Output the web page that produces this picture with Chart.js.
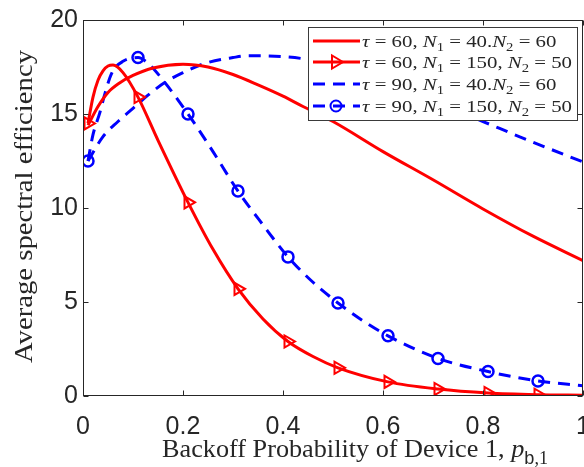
<!DOCTYPE html>
<html>
<head>
<meta charset="utf-8">
<script src="https://cdn.jsdelivr.net/npm/chart.js@4/dist/chart.umd.min.js"></script>
<style>
  html, body { margin: 0; padding: 0; background: #fff; }
  #wrap { width: 584px; height: 467px; }
</style>
</head>
<body>
<div id="wrap"><canvas id="chart" width="584" height="467"></canvas></div>
<script>
// data

// tau = 60, N1 = 40, N2 = 60 (red solid)
const xA = [0.01, 0.03, 0.05, 0.07, 0.1, 0.14, 0.2, 0.25, 0.3, 0.35, 0.4, 0.44, 0.5, 0.6, 0.7, 0.8, 0.9, 1.0];
const yA = [14.4, 15.4, 16.15, 16.6, 17.05, 17.45, 17.65, 17.5, 17.1, 16.55, 15.95, 15.4, 14.6, 13.0, 11.5, 9.95, 8.5, 7.2];

// tau = 60, N1 = 150, N2 = 50 (red, triangles)
const xB = [0.01, 0.02, 0.03, 0.04, 0.05, 0.06, 0.08, 0.11, 0.15, 0.21, 0.26, 0.31, 0.36, 0.41, 0.46, 0.51, 0.61, 0.71, 0.81, 0.91, 1.0];
const yB = [14.5, 15.9, 16.8, 17.3, 17.55, 17.6, 17.2, 15.9, 13.6, 10.3, 7.8, 5.7, 4.1, 2.9, 2.1, 1.5, 0.75, 0.37, 0.16, 0.07, 0.04];

// tau = 90, N1 = 40, N2 = 60 (blue dashed)
const xC = [0.01, 0.04, 0.07, 0.1, 0.13, 0.165, 0.2, 0.245, 0.3, 0.33, 0.4, 0.45, 0.5, 0.6, 0.7, 0.8, 0.9, 1.0];
const yC = [12.5, 13.8, 14.6, 15.3, 16.0, 16.7, 17.2, 17.7, 18.0, 18.1, 18.05, 17.9, 17.6, 16.8, 15.7, 14.6, 13.5, 12.45];

// tau = 90, N1 = 150, N2 = 50 (blue dashed, circles)
const xD = [0.01, 0.02, 0.034, 0.044, 0.058, 0.08, 0.11, 0.13, 0.16, 0.21, 0.26, 0.31, 0.36, 0.41, 0.46, 0.51, 0.56, 0.61, 0.71, 0.81, 0.91, 1.0];
const yD = [12.5, 13.9, 15.1, 16.1, 17.2, 17.8, 18.0, 17.7, 16.8, 15.0, 13.0, 10.9, 9.1, 7.4, 6.05, 4.95, 4.0, 3.2, 2.0, 1.3, 0.8, 0.55];

// where the markers sit
const markerXs = [0.01, 0.11, 0.21, 0.31, 0.41, 0.51, 0.61, 0.71, 0.81, 0.91];

const xTicks = [0, 0.2, 0.4, 0.6, 0.8, 1];
const yTicks = [0, 5, 10, 15, 20];

const seriesLabels = [
  'τ = 60, N1 = 40.N2 = 60',
  'τ = 60, N1 = 150, N2 = 50',
  'τ = 90, N1 = 40.N2 = 60',
  'τ = 90, N1 = 150, N2 = 50'
];

const RED = '#ff0000', BLUE = '#0000ff', AXIS = '#262626';
const SERIF = '"Liberation Serif", "Times New Roman", serif';
const SANS = '"Liberation Sans", Arial, sans-serif';
const DASH = [12, 8];

function pts(xs, ys){ return xs.map((x, i) => ({x: x, y: ys[i]})); }
function markerRadius(r){
  return c => (c.raw && markerXs.some(m => Math.abs(m - c.raw.x) < 1e-6)) ? r : 0;
}

// pieces of the latex-ish labels: [text, italic, subscript, sans]
function legendParts(tau, n1, n2, sep){
  return [['τ', true], [' = ' + tau + ', '], ['N', true], ['1', false, true],
          [' = ' + n1 + sep], ['N', true], ['2', false, true], [' = ' + n2]];
}
const legendRows = [
  {parts: legendParts(60, 40, 60, '.'), color: RED, dash: [], marker: null},
  {parts: legendParts(60, 150, 50, ', '), color: RED, dash: [], marker: 'tri'},
  {parts: legendParts(90, 40, 60, '.'), color: BLUE, dash: DASH, marker: null},
  {parts: legendParts(90, 150, 50, ', '), color: BLUE, dash: DASH, marker: 'circ'}
];

function partFont(p, s){
  const size = p[2] ? Math.round(s * 0.7) : s;
  return (p[1] ? 'italic ' : '') + size + 'px ' + (p[3] ? SANS : SERIF);
}
function partsWidth(ctx, parts, s){
  let w = 0;
  parts.forEach(p => { ctx.font = partFont(p, s); w += ctx.measureText(p[0]).width; });
  return w;
}
// draw at font size s, stretched sideways by k
function drawParts(ctx, parts, x, y, s, k){
  ctx.save();
  ctx.translate(x, y);
  ctx.scale(k, 1);
  let cx = 0;
  parts.forEach(p => {
    ctx.font = partFont(p, s);
    ctx.fillText(p[0], cx, p[2] ? s * 0.25 : 0);
    cx += ctx.measureText(p[0]).width;
  });
  ctx.restore();
}

const frame = {
  id: 'frame',
  afterDraw(chart){
    const {ctx, chartArea: a, scales} = chart;
    ctx.save();
    // axes box
    ctx.strokeStyle = AXIS;
    ctx.lineWidth = 1;
    ctx.setLineDash([]);
    const L = Math.round(a.left) + 0.5, R = Math.round(a.right) - 0.5;
    const T = Math.round(a.top) + 0.5, B = Math.round(a.bottom) - 0.5;
    ctx.strokeRect(L, T, R - L, B - T);
    // inward ticks
    ctx.beginPath();
    xTicks.forEach(v => {
      const px = Math.round(scales.x.getPixelForValue(v)) + 0.5;
      ctx.moveTo(px, B); ctx.lineTo(px, B - 5);
      ctx.moveTo(px, T); ctx.lineTo(px, T + 5);
    });
    yTicks.forEach(v => {
      const py = Math.round(scales.y.getPixelForValue(v)) + 0.5;
      ctx.moveTo(L, py); ctx.lineTo(L + 5, py);
      ctx.moveTo(R, py); ctx.lineTo(R - 5, py);
    });
    ctx.stroke();

    // legend
    const lx = 308.5, ly = 27.5, lw = 269, lh = 93;
    ctx.fillStyle = '#fff';
    ctx.fillRect(lx, ly, lw, lh);
    ctx.strokeStyle = '#3a3a3a';
    ctx.strokeRect(lx, ly, lw, lh);
    const rowY = [41, 62, 84, 106];
    const s = 17;
    const k = 210 / partsWidth(ctx, legendRows[1].parts, s);
    legendRows.forEach((row, i) => {
      const y = rowY[i];
      ctx.strokeStyle = row.color;
      ctx.lineWidth = 3;
      ctx.setLineDash(row.dash);
      ctx.beginPath(); ctx.moveTo(313, y); ctx.lineTo(360, y); ctx.stroke();
      ctx.setLineDash([]);
      ctx.lineWidth = 2;
      if (row.marker === 'tri'){
        ctx.beginPath();
        ctx.moveTo(343, y); ctx.lineTo(332, y - 6.5); ctx.lineTo(332, y + 6.5); ctx.closePath();
        ctx.stroke();
      } else if (row.marker === 'circ'){
        ctx.beginPath(); ctx.arc(336, y, 5.5, 0, Math.PI * 2); ctx.stroke();
      }
      ctx.fillStyle = AXIS;
      ctx.textBaseline = 'alphabetic';
      ctx.textAlign = 'left';
      drawParts(ctx, row.parts, 362, y + 6, s, k);
    });

    // x title
    const xParts = [['Backoff Probability of Device 1, '], ['p', true], ['b', false, true, true], [',1', false, true]];
    const xs = 26;
    ctx.fillStyle = AXIS;
    drawParts(ctx, xParts, 162, 457, xs, 386 / partsWidth(ctx, xParts, xs));

    // y title
    const yParts = [['Average spectral efficiency']];
    const ys = 26;
    const yk = 313 / partsWidth(ctx, yParts, ys);
    ctx.translate(32, 206.5);
    ctx.rotate(-Math.PI / 2);
    ctx.scale(yk, 1);
    ctx.textAlign = 'center';
    ctx.font = ys + 'px ' + SERIF;
    ctx.fillText(yParts[0][0], 0, 0);
    ctx.restore();
  }
};

new Chart(document.getElementById('chart'), {
  type: 'line',
  data: {
    datasets: [
      {
        label: seriesLabels[0], data: pts(xA, yA),
        borderColor: RED, borderWidth: 3, pointRadius: 0,
        cubicInterpolationMode: 'monotone', fill: false
      },
      {
        label: seriesLabels[1], data: pts(xB, yB),
        borderColor: RED, borderWidth: 3,
        pointStyle: 'triangle', pointRotation: 90, pointRadius: markerRadius(7),
        pointBorderColor: RED, pointBorderWidth: 2, pointBackgroundColor: 'rgba(255,255,255,0)',
        cubicInterpolationMode: 'monotone', fill: false
      },
      {
        label: seriesLabels[2], data: pts(xC, yC),
        borderColor: BLUE, borderWidth: 3, borderDash: DASH, pointRadius: 0,
        cubicInterpolationMode: 'monotone', fill: false
      },
      {
        label: seriesLabels[3], data: pts(xD, yD),
        borderColor: BLUE, borderWidth: 3, borderDash: DASH,
        pointStyle: 'circle', pointRadius: markerRadius(5.5),
        pointBorderColor: BLUE, pointBorderWidth: 2.5, pointBackgroundColor: 'rgba(255,255,255,0)',
        cubicInterpolationMode: 'monotone', fill: false
      }
    ]
  },
  options: {
    responsive: false,
    animation: false,
    events: [],
    layout: { autoPadding: false, padding: { top: 20, right: 1, left: 0, bottom: 0 } },
    plugins: { legend: { display: false }, tooltip: { enabled: false } },
    scales: {
      x: {
        type: 'linear', min: 0, max: 1,
        grid: { display: false, drawTicks: false },
        border: { display: false },
        afterBuildTicks: s => { s.ticks = xTicks.map(v => ({value: v})); },
        ticks: { color: AXIS, font: { family: SANS, size: 25 }, padding: 16, maxRotation: 0,
                 callback: v => String(v) },
        afterFit: s => { s.height = 71; s.paddingLeft = 0; s.paddingRight = 0; }
      },
      y: {
        min: 0, max: 20,
        grid: { display: false, drawTicks: false },
        border: { display: false },
        afterBuildTicks: s => { s.ticks = yTicks.map(v => ({value: v})); },
        ticks: { color: AXIS, font: { family: SANS, size: 25 }, padding: 5 },
        afterFit: s => { s.width = 83; s.paddingTop = 0; s.paddingBottom = 0; }
      }
    }
  },
  plugins: [frame]
});
</script>
</body>
</html>
